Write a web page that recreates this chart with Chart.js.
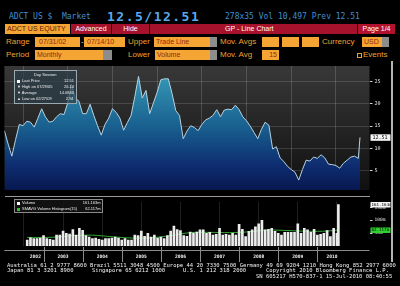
<!DOCTYPE html>
<html>
<head>
<meta charset="utf-8">
<script src="https://cdn.jsdelivr.net/npm/chart.js@4.4.0/dist/chart.umd.min.js"></script>
<style>
  html, body { margin: 0; padding: 0; background: #000; }
  body { width: 400px; height: 286px; position: relative; overflow: hidden; font-family: "Liberation Sans", Arial, sans-serif; }
  .a { position: absolute; white-space: pre; line-height: 1; }
  .mono { font-family: "DejaVu Sans Mono", monospace; }
  .lbl { color: #eea032; font-size: 8px; height: 10px; line-height: 10px; }
  .box { background: #f5a534; color: #8e2a10; font-size: 7px; height: 10px; line-height: 10px; padding-left: 2px; box-sizing: border-box; }
  .gry { background: #8d8d8d; height: 10px; }
  .red { background: #a6112b; color: #fff; font-size: 7px; height: 10px; line-height: 10px; text-align: center; }
  /* small text: browser clamps tiny font sizes, so scale 8px text down */
  .t { font-size: 8px; transform-origin: 0 0; transform: scale(var(--k)); }
  .tr { font-size: 8px; transform-origin: 100% 0; transform: scale(var(--k)); }
  .leg { --k: 0.5; color: #ececec; font-family: "Liberation Sans", Arial, sans-serif; }
  .foot { --k: 0.69; color: #f2f2f2; font-family: "DejaVu Sans Mono", monospace; }
  canvas { position: absolute; left: 0; }
</style>
</head>
<body>
<!-- header -->
<div class="a mono" style="left:9px;top:13px;font-size:8px;color:#3f8fd4">ADCT US $  Market</div>
<div class="a mono" style="left:107px;top:10px;font-size:13px;font-weight:bold;letter-spacing:1.5px;color:#5aa8ea">12.5/12.51</div>
<div class="a mono" style="left:225px;top:13px;font-size:8px;color:#3f8fd4">278x35 Vol 10,497 Prev 12.51</div>

<div class="a box" style="left:5px;top:24px;width:65px;color:#5a1c08">ADCT US EQUITY</div>
<div class="a red" style="left:71px;top:24px;width:40px">Advanced</div>
<div class="a red" style="left:112px;top:24px;width:37px">Hide</div>
<div class="a red" style="left:150px;top:24px;width:207px"></div>
<div class="a" style="left:225px;top:24px;height:10px;line-height:10px;font-size:7px;color:#fff">GP - Line Chart</div>
<div class="a red" style="left:358px;top:24px;width:37px;background:#b3122e">Page 1/4</div>

<div class="a lbl" style="left:6px;top:37px">Range</div>
<div class="a box" style="left:35px;top:37px;width:45px;padding-left:4px">07/31/02</div>
<div class="a lbl" style="left:81px;top:37px;color:#ccc">-</div>
<div class="a box" style="left:84px;top:37px;width:41px;padding-left:3px">07/14/10</div>
<div class="a lbl" style="left:128px;top:37px">Upper</div>
<div class="a box" style="left:154px;top:37px;width:56px">Trade Line</div>
<div class="a gry" style="left:210px;top:37px;width:7px"></div>
<div class="a lbl" style="left:220px;top:37px">Mov. Avgs</div>
<div class="a box" style="left:262px;top:37px;width:17px"></div>
<div class="a box" style="left:282px;top:37px;width:17px"></div>
<div class="a box" style="left:302px;top:37px;width:17px"></div>
<div class="a lbl" style="left:322px;top:37px">Currency</div>
<div class="a box" style="left:362px;top:37px;width:20px">USD</div>
<div class="a gry" style="left:382px;top:37px;width:7px"></div>

<div class="a lbl" style="left:6px;top:50px">Period</div>
<div class="a box" style="left:35px;top:50px;width:68px">Monthly</div>
<div class="a gry" style="left:103px;top:50px;width:9px"></div>
<div class="a lbl" style="left:128px;top:50px">Lower</div>
<div class="a box" style="left:155px;top:50px;width:55px">Volume</div>
<div class="a gry" style="left:210px;top:50px;width:7px"></div>
<div class="a lbl" style="left:220px;top:50px">Mov. Avg</div>
<div class="a box" style="left:262px;top:50px;width:17px;text-align:right;padding-right:2px">15</div>
<div class="a" style="left:357px;top:53px;width:3px;height:3px;border:1px solid #eea032"></div>
<div class="a lbl" style="left:363px;top:50px">Events</div>

<canvas id="priceChart" width="400" height="134" style="top:61px"></canvas>
<canvas id="volumeChart" width="400" height="66" style="top:197px"></canvas>

<div class="a" style="left:5px;top:196px;width:365px;height:1px;background:#9a9a9a"></div>
<div class="a" style="left:391px;top:61px;width:2px;height:201px;background:#b5b5b5"></div>

<!-- price legend -->
<div class="a" style="left:14px;top:70px;width:63px;height:34px;background:rgba(44,62,74,0.7);border:1px solid #9aa8b2;box-sizing:border-box"></div>
<div class="a t leg" style="left:34px;top:73px">Day Session</div>
<div class="a" style="left:17px;top:79.5px;width:3px;height:3px;background:#fff"></div>
<div class="a t leg" style="left:22px;top:79px">Last Price</div>
<div class="a tr leg" style="right:326px;top:79px">12.51</div>
<div class="a t leg" style="left:17px;top:85px">▼ High on 07/29/05</div>
<div class="a tr leg" style="right:326px;top:85px">26.14</div>
<div class="a t leg" style="left:17px;top:91px">▼ Average</div>
<div class="a tr leg" style="right:326px;top:91px">14.0840</div>
<div class="a t leg" style="left:17px;top:97px">▲ Low on 02/27/09</div>
<div class="a tr leg" style="right:326px;top:97px">2.94</div>

<!-- volume legend -->
<div class="a" style="left:14px;top:199px;width:89px;height:14px;background:rgba(20,20,20,0.85);border:1px solid #8a8a8a;box-sizing:border-box"></div>
<div class="a" style="left:17px;top:201.5px;width:3px;height:3px;background:#fff"></div>
<div class="a t leg" style="left:22px;top:201px">Volume</div>
<div class="a tr leg" style="right:299px;top:201px">161.163m</div>
<div class="a" style="left:17px;top:207.5px;width:3px;height:3px;background:#2fc42f"></div>
<div class="a t leg" style="left:22px;top:207px">SMAVG Volume Histogram(15)</div>
<div class="a tr leg" style="right:299px;top:207px">62.117m</div>

<!-- footer -->
<div class="a t foot" style="left:7px;top:262.5px">Australia 61 2 9777 8600 Brazil 5511 3048 4500 Europe 44 20 7330 7500 Germany 49 69 9204 1210 Hong Kong 852 2977 6000</div>
<div class="a t foot" style="left:7px;top:268px">Japan 81 3 3201 8900</div>
<div class="a t foot" style="left:92px;top:268px">Singapore 65 6212 1000</div>
<div class="a t foot" style="left:183px;top:268px">U.S. 1 212 318 2000</div>
<div class="a t foot" style="left:266px;top:268px">Copyright 2010 Bloomberg Finance L.P.</div>
<div class="a t foot" style="left:256px;top:273.5px">SN 605217 H570-837-1 15-Jul-2010 08:40:55</div>

<script>
"use strict";

// monthly closes, Jul 2002 .. Jun 2010, last point 14 Jul 2010
const dates = [];
for (let y = 2002, m = 7; y < 2010 || m < 7; m++) {
    if (m > 12) { m = 1; y++; if (y === 2010 && m >= 7) break; }
    dates.push(`${y}-${String(m).padStart(2, "0")}`);
}
dates.push("2010-07-14");

const priceValues = [
    14.0, 11.0, 8.3, 12.0, 15.4, 15.1, 16.1, 15.9, 14.8, 16.8,
    18.9, 17.1, 15.9, 16.1, 17.1, 17.8, 17.6, 20.2, 24.4, 21.3,
    20.6, 17.8, 17.8, 19.9, 17.4, 15.1, 13.0, 15.4, 16.8, 18.9,
    18.1, 16.8, 14.1, 15.8, 17.4, 21.6, 26.14, 21.3, 23.0, 17.8,
    20.2, 22.6, 25.4, 25.6, 25.6, 22.3, 18.5, 17.4, 12.2, 13.9,
    15.1, 14.7, 14.0, 15.4, 16.4, 16.8, 17.4, 18.7, 17.1, 18.6,
    18.8, 18.7, 19.7, 18.7, 17.1, 16.2, 15.0, 13.6, 12.2, 14.3,
    15.9, 15.2, 9.9, 10.4, 7.9, 7.1, 6.0, 5.3, 4.7, 2.94,
    5.3, 7.4, 7.2, 8.1, 7.8, 8.6, 7.9, 6.5, 6.4, 6.2,
    5.6, 6.7, 7.4, 8.1, 8.3, 7.8, 12.51
];

// monthly volume, millions of shares
const volumeValues = [
    22.7, 32, 28.7, 28.7, 30.8, 40, 28.7, 26, 22.7, 42.5,
    42.5, 57.7, 49.6, 46, 63.6, 42.5, 69, 61, 40, 34.3,
    28.7, 30.8, 26, 22.7, 28.7, 28.7, 30.8, 34.3, 30.8, 22.7,
    28.7, 22.7, 22.7, 42.5, 40, 57.7, 37.9, 49.6, 34.3, 42.5,
    30.8, 34.3, 28.7, 40, 57.7, 77.6, 63.6, 60, 40, 37.9,
    54, 50, 54, 63, 63, 49, 53.5, 42, 45.5, 68.5,
    42, 45.5, 42, 49, 42, 84, 65, 37, 57, 63,
    74.5, 86, 100, 63, 65, 68.5, 57, 49, 42, 53,
    53.5, 53.5, 53, 86, 49, 68.5, 63, 53.5, 65, 42,
    45.5, 49, 60, 37, 68.5, 49, 161.163
];

// SMAVG(15) of volume, read at a few dates
const smavgDates = ["2002-07", "2003-03", "2003-09", "2004-03", "2004-09", "2005-03", "2005-09", "2006-03", "2006-09", "2007-03", "2007-09", "2008-03", "2008-09", "2009-03", "2009-09", "2010-03", "2010-07-14"];
const smavgValues = [33, 34, 40, 42, 36, 31, 32, 40, 52, 53, 52, 55, 62, 60, 57, 58, 62.117];

const priceTicks = [5, 10, 15, 20, 25];
const volumeTicks = [50, 100, 150];
const volumeTickLabels = ["50m", "100m", "150m"];
const years = [2002, 2003, 2004, 2005, 2006, 2007, 2008, 2009, 2010];
const lastPrice = "12.51";

// month-end position, in months from 1 Jul 2002
function toX(d) {
    const p = d.split("-").map(Number);
    const base = (p[0] - 2002) * 12 + (p[1] - 7);
    return p.length === 3 ? base + p[2] / 31 : base + 1;
}
function yearStart(y) {
    return (y - 2002) * 12 - 6;
}

const X_MIN = 1;
const X_MAX = 99;
const mono = "DejaVu Sans Mono";

function fixedWidthY(scale) { scale.width = 30.5; }

const priceBackground = {
    id: "priceBackground",
    beforeDraw(chart) {
        const { ctx, chartArea: a } = chart;
        const g = ctx.createLinearGradient(0, a.top, 0, a.bottom);
        g.addColorStop(0, "#383838");
        g.addColorStop(1, "#101010");
        ctx.save();
        ctx.fillStyle = g;
        ctx.fillRect(a.left, a.top, a.right - a.left, a.bottom - a.top);
        ctx.restore();
    },
    afterDraw(chart) {
        const { ctx, chartArea: a, scales } = chart;
        const y = scales.y.getPixelForValue(parseFloat(lastPrice));
        ctx.save();
        ctx.fillStyle = "#f4f4f4";
        ctx.fillRect(a.right + 1, y - 3, 20, 6.5);
        ctx.fillStyle = "#000";
        ctx.font = `5px ${mono}`;
        ctx.textBaseline = "middle";
        ctx.fillText(lastPrice, a.right + 3, y + 0.3);
        ctx.restore();
    }
};

new Chart(document.getElementById("priceChart"), {
    type: "line",
    data: {
        datasets: [{
            data: dates.map((d, i) => ({ x: toX(d), y: priceValues[i] })),
            borderColor: "#b6d2e2",
            borderWidth: 1,
            pointRadius: 0,
            tension: 0,
            fill: "start",
            backgroundColor(context) {
                const a = context.chart.chartArea;
                if (!a) return "#1a5a88";
                const g = context.chart.ctx.createLinearGradient(0, a.top, 0, a.bottom);
                g.addColorStop(0, "#3aa2bc");
                g.addColorStop(0.5, "#185e8e");
                g.addColorStop(0.8, "#0e2d70");
                g.addColorStop(1, "#081850");
                return g;
            }
        }]
    },
    options: {
        responsive: false,
        animation: false,
        layout: { padding: { left: 4.4, right: 0, top: 0, bottom: 0 } },
        plugins: { legend: { display: false }, tooltip: { enabled: false } },
        scales: {
            x: {
                type: "linear",
                min: X_MIN,
                max: X_MAX,
                afterBuildTicks(scale) { scale.ticks = years.slice(1).map(y => ({ value: yearStart(y) })); },
                afterFit(scale) { scale.height = 0; },
                ticks: { display: false },
                grid: { color: "rgba(255,255,255,0.16)", drawTicks: false },
                border: { display: false },
                z: 1
            },
            y: {
                position: "right",
                min: 0.72,
                max: 28.47,
                afterBuildTicks(scale) { scale.ticks = priceTicks.map(v => ({ value: v })); },
                afterFit: fixedWidthY,
                ticks: { color: "#e6e6e6", font: { family: mono, size: 5 }, padding: 2 },
                grid: { color: "rgba(255,255,255,0.14)", tickColor: "#cfcfcf", tickLength: 3 },
                border: { display: false },
                z: 1
            }
        }
    },
    plugins: [priceBackground]
});

const yearAxis = {
    id: "yearAxis",
    afterDraw(chart) {
        const { ctx, chartArea: a, scales } = chart;
        const x = scales.x;
        const lineY = a.bottom + 4;
        ctx.save();
        ctx.strokeStyle = "#8a8a8a";
        ctx.lineWidth = 1;
        ctx.beginPath();
        ctx.moveTo(a.left, lineY + 0.5);
        ctx.lineTo(a.right, lineY + 0.5);
        years.slice(1).forEach(y => {
            const px = Math.round(x.getPixelForValue(yearStart(y))) + 0.5;
            ctx.moveTo(px, a.bottom + 1);
            ctx.lineTo(px, a.bottom + 16);
        });
        ctx.stroke();
        ctx.fillStyle = "#f0f0f0";
        ctx.font = `bold 4.6px ${mono}`;
        ctx.textAlign = "center";
        ctx.textBaseline = "middle";
        years.forEach(y => {
            const s = Math.max(yearStart(y), X_MIN);
            const e = Math.min(yearStart(y + 1), X_MAX);
            ctx.fillText(String(y), x.getPixelForValue((s + e) / 2), a.bottom + 11);
        });
        // value flags on the right
        const vy = scales.y;
        const top = vy.getPixelForValue(volumeValues[volumeValues.length - 1]);
        ctx.fillStyle = "#f4f4f4";
        ctx.fillRect(a.right + 1, top - 2.5, 20, 5.5);
        const gy = vy.getPixelForValue(smavgValues[smavgValues.length - 1]);
        ctx.fillStyle = "#2fd02f";
        ctx.fillRect(a.right + 1, gy - 2.5, 20, 5.5);
        ctx.fillStyle = "#000";
        ctx.font = `4.2px ${mono}`;
        ctx.textAlign = "left";
        ctx.fillText("161.163m", a.right + 2, top + 0.3);
        ctx.fillText("62.117m", a.right + 2, gy + 0.3);
        ctx.restore();
    }
};

new Chart(document.getElementById("volumeChart"), {
    data: {
        datasets: [{
            type: "bar",
            data: dates.map((d, i) => ({ x: toX(d), y: volumeValues[i] })),
            backgroundColor: "#ececec",
            barThickness: 2
        }, {
            type: "line",
            data: smavgDates.map((d, i) => ({ x: toX(d), y: smavgValues[i] })),
            borderColor: "#2fa82f",
            borderWidth: 1,
            pointRadius: 0,
            tension: 0.3
        }]
    },
    options: {
        responsive: false,
        animation: false,
        layout: { padding: { left: 4.4, right: 0, top: 0, bottom: 0 } },
        plugins: { legend: { display: false }, tooltip: { enabled: false } },
        scales: {
            x: {
                type: "linear",
                min: X_MIN,
                max: X_MAX,
                afterBuildTicks(scale) { scale.ticks = years.slice(1).map(y => ({ value: yearStart(y) })); },
                afterFit(scale) { scale.height = 17; },
                ticks: { display: false },
                grid: { color: "rgba(255,255,255,0.12)", drawTicks: false },
                border: { display: false }
            },
            y: {
                position: "right",
                min: 0,
                max: 172,
                afterBuildTicks(scale) { scale.ticks = volumeTicks.map(v => ({ value: v })); },
                afterFit: fixedWidthY,
                ticks: {
                    color: "#e6e6e6",
                    font: { family: mono, size: 4.5 },
                    padding: 2,
                    callback: (v) => volumeTickLabels[volumeTicks.indexOf(v)]
                },
                grid: { display: true, drawOnChartArea: false, tickColor: "#cfcfcf", tickLength: 3 },
                border: { display: false }
            }
        }
    },
    plugins: [yearAxis]
});
</script>
</body>
</html>
